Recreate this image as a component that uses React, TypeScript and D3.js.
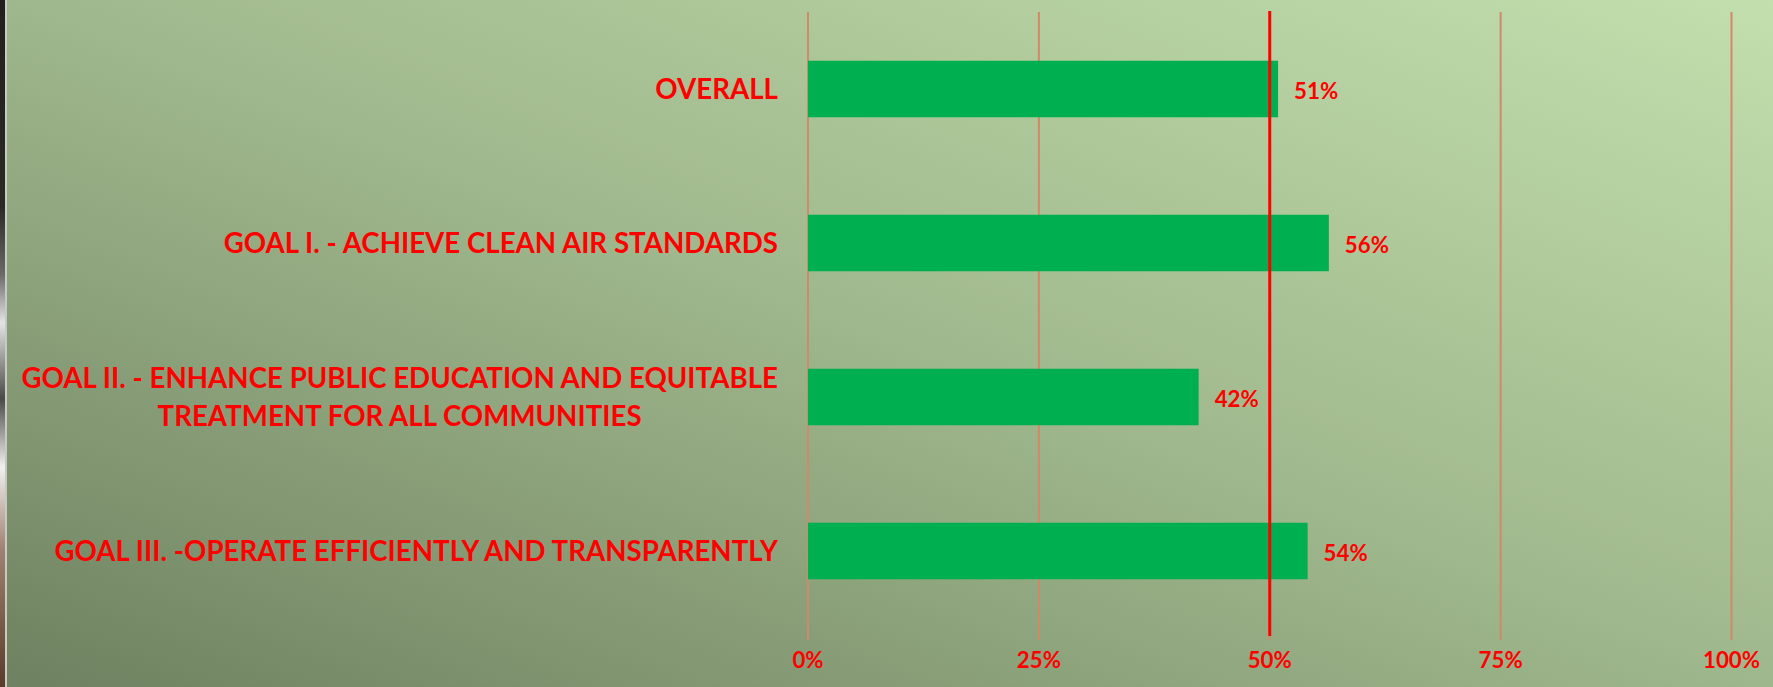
import React, { useEffect, useRef } from 'react';
import * as d3 from 'd3';

// chart data
const categoryLines = [
  ['OVERALL'],
  ['GOAL I. - ACHIEVE CLEAN AIR STANDARDS'],
  ['GOAL II. - ENHANCE PUBLIC EDUCATION AND EQUITABLE', 'TREATMENT FOR ALL COMMUNITIES'],
  ['GOAL III. -OPERATE EFFICIENTLY AND TRANSPARENTLY'],
];
const categories = categoryLines.map(l => l.join(' '));
const values = [0.509, 0.564, 0.423, 0.541];
const valueLabels = ['51%', '56%', '42%', '54%'];
const xTicks = [0, 0.25, 0.5, 0.75, 1];
const tickLabels = ['0%', '25%', '50%', '75%', '100%'];
const targetValue = 0.5;

const W = 1773, H = 687;
const FONT = 'Lato, "Open Sans", sans-serif';
const SX_CAT = 0.955; // squeeze Lato toward Calibri widths
const SX_NUM = 0.97;

function App() {
  const svgRef = useRef<SVGSVGElement>(null);

  useEffect(() => {
    const svg = d3.select(svgRef.current);
    svg.selectAll('*').remove();

    const defs = svg.append('defs');
    const bg = defs.append('linearGradient').attr('id', 'bg')
      .attr('x1', 0).attr('y1', 1).attr('x2', 1).attr('y2', 0);
    bg.append('stop').attr('offset', '0%').attr('stop-color', '#6e8160');
    bg.append('stop').attr('offset', '50%').attr('stop-color', '#9fb78c');
    bg.append('stop').attr('offset', '100%').attr('stop-color', '#c3dfad');

    const edge = defs.append('linearGradient').attr('id', 'edge')
      .attr('x1', 0).attr('y1', 0).attr('x2', 0).attr('y2', 1);
    [['0%', '#221f1c'], ['30%', '#2b2926'], ['40%', '#6a6a6a'], ['47%', '#e4e4e4'], ['58%', '#4a4a4a'],
      ['68%', '#f0f0f0'], ['80%', '#a08070'], ['100%', '#5a3a28']].forEach(([o, c]) =>
      edge.append('stop').attr('offset', o).attr('stop-color', c));

    svg.append('rect').attr('width', W).attr('height', H).attr('fill', 'url(#bg)');
    svg.append('rect').attr('width', 5).attr('height', H).attr('fill', 'url(#edge)');
    svg.append('rect').attr('x', 5).attr('width', 2).attr('height', H).attr('fill', '#c9c9c4');

    const x = d3.scaleLinear().domain([0, 1]).range([808, 1731.5]);
    const y = d3.scaleBand().domain(categories).range([12, 628])
      .paddingInner(0.633).paddingOuter(0.3165);

    // gridlines
    svg.append('g').selectAll('line').data(xTicks).enter().append('line')
      .attr('x1', d => x(d)).attr('x2', d => x(d))
      .attr('y1', 12).attr('y2', 640)
      .attr('stroke', '#d0896a').attr('stroke-width', 2);

    // bars
    svg.append('g').selectAll('rect').data(values).enter().append('rect')
      .attr('x', x(0))
      .attr('y', (d, i) => y(categories[i]))
      .attr('width', d => x(d) - x(0))
      .attr('height', y.bandwidth())
      .attr('fill', '#00b050');

    // target line
    svg.append('line')
      .attr('x1', x(targetValue)).attr('x2', x(targetValue))
      .attr('y1', 11).attr('y2', 636)
      .attr('stroke', '#ff0000').attr('stroke-width', 3);

    // value labels
    svg.append('g').selectAll('text').data(values).enter().append('text')
      .attr('transform', (d, i) => `translate(${x(d) + 16},${y(categories[i]) + y.bandwidth() / 2 + 10}) scale(${SX_NUM},1)`)
      .attr('font-family', FONT).attr('font-weight', 700).attr('font-size', 23)
      .attr('fill', '#ff0000')
      .text((d, i) => valueLabels[i]);

    // x tick labels
    svg.append('g').selectAll('text').data(xTicks).enter().append('text')
      .attr('transform', d => `translate(${x(d)},667.5) scale(${SX_NUM},1)`)
      .attr('text-anchor', 'middle')
      .attr('font-family', FONT).attr('font-weight', 700).attr('font-size', 23)
      .attr('fill', '#ff0000')
      .text((d, i) => tickLabels[i]);

    // category labels, wrapped lines centred under the first
    const labelRight = 778;
    const lineGap = 38.5;
    categoryLines.forEach((lines, i) => {
      const cy = y(categories[i]) + y.bandwidth() / 2;
      const g = svg.append('g');
      let firstW = 0;
      lines.forEach((line, j) => {
        const by = cy + 10 + (j - (lines.length - 1) / 2) * lineGap;
        const t = g.append('text')
          .attr('font-family', FONT).attr('font-weight', 700).attr('font-size', 29)
          .attr('fill', '#ff0000')
          .text(line);
        if (j === 0) {
          firstW = (t.node() as SVGTextElement).getComputedTextLength() * SX_CAT;
          t.attr('text-anchor', 'end')
            .attr('transform', `translate(${labelRight},${by}) scale(${SX_CAT},1)`);
        } else {
          t.attr('text-anchor', 'middle')
            .attr('transform', `translate(${labelRight - firstW / 2},${by}) scale(${SX_CAT},1)`);
        }
      });
    });
  }, []);

  return (
    <svg ref={svgRef} width={W} height={H}
      style={{ position: 'absolute', left: 0, top: 0, display: 'block' }} />
  );
}

export default App;
